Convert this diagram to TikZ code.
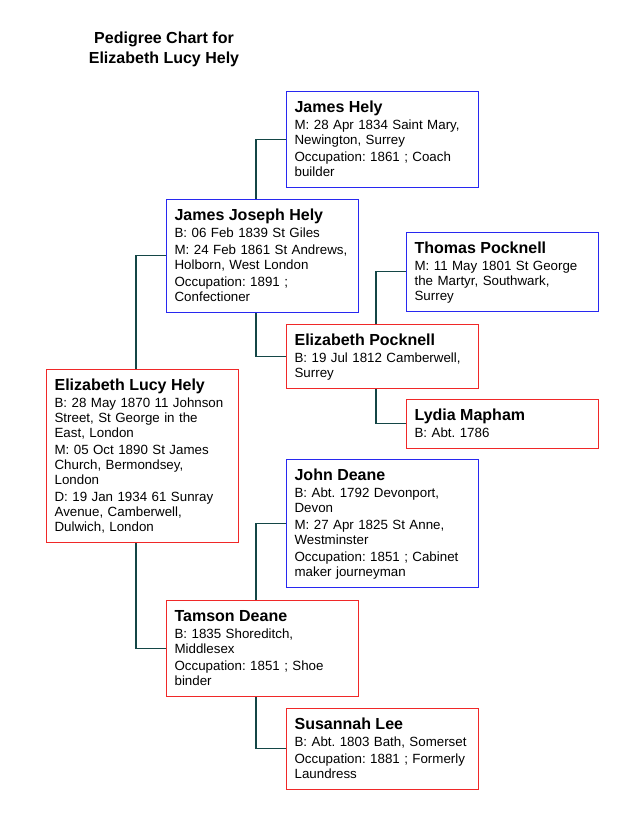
\documentclass[tikz,border=0pt]{standalone}
\usepackage{fontspec}
\setmainfont{Liberation Sans}
\usetikzlibrary{calc}
\definecolor{cMale}{RGB}{40,40,240}
\definecolor{cFemale}{RGB}{240,40,40}
\definecolor{cKin}{RGB}{20,70,70}
\newcommand{\pname}[1]{\rule{0pt}{15.5pt}{\fontsize{12}{14}\selectfont\bfseries #1}\\[1.5pt]}
\newcommand{\pend}{\rule[-8.25pt]{0pt}{8.25pt}}
\tikzset{
	person/.style   ={rectangle, anchor=north west, text width=132pt, inner xsep=6pt, inner ysep=0pt, align=left, line width=0.9pt, fill=white, font=\fontsize{10}{11.25}\selectfont\frenchspacing},
	malebox/.style  ={person, draw=cMale},
	femalebox/.style={person, draw=cFemale},
	kin/.style      ={draw=cKin, line width=0.8pt},
	charttitle/.style={anchor=north, inner sep=0pt, align=center, font=\fontsize{12}{14.5}\selectfont\bfseries},
}
\begin{document}
\begin{tikzpicture}[x=0.75pt, y=-0.75pt]
	\fill[white] (0,0) rectangle (640,828);
	\useasboundingbox (0,0) rectangle (640,828);
	% title
	\node[charttitle] (ttl) at (164,32) {Pedigree Chart for\\Elizabeth Lucy Hely};
	% generation 1
	\node[femalebox] (elh) at (46,369) {\pname{Elizabeth Lucy Hely}B: 28 May 1870 11 Johnson\\Street, St George in the\\East, London\\[1.5pt]M: 05 Oct 1890 St James\\Church, Bermondsey,\\London\\[1.5pt]D: 19 Jan 1934 61 Sunray\\Avenue, Camberwell,\\Dulwich, London\pend};
	% generation 2
	\node[malebox] (jjh) at (166,199) {\pname{James Joseph Hely}B: 06 Feb 1839 St Giles\\[1.5pt]M: 24 Feb 1861 St Andrews,\\Holborn, West London\\[1.5pt]Occupation: 1891 ;\\Confectioner\pend};
	\node[femalebox] (td) at (166,600) {\pname{Tamson Deane}B: 1835 Shoreditch,\\Middlesex\\[1.5pt]Occupation: 1851 ; Shoe\\binder\pend};
	% generation 3
	\node[malebox] (jh) at (286,91) {\pname{James Hely}M: 28 Apr 1834 Saint Mary,\\Newington, Surrey\\[1.5pt]Occupation: 1861 ; Coach\\builder\pend};
	\node[femalebox] (ep) at (286,324) {\pname{Elizabeth Pocknell}B: 19 Jul 1812 Camberwell,\\Surrey\pend};
	\node[malebox] (jd) at (286,459) {\pname{John Deane}B: Abt. 1792 Devonport,\\Devon\\[1.5pt]M: 27 Apr 1825 St Anne,\\Westminster\\[1.5pt]Occupation: 1851 ; Cabinet\\maker journeyman\pend};
	\node[femalebox] (sl) at (286,708) {\pname{Susannah Lee}B: Abt. 1803 Bath, Somerset\\[1.5pt]Occupation: 1881 ; Formerly\\Laundress\pend};
	% generation 4
	\node[malebox] (tp) at (406,232) {\pname{Thomas Pocknell}M: 11 May 1801 St George\\the Martyr, Southwark,\\Surrey\pend};
	\node[femalebox] (lm) at (406,399) {\pname{Lydia Mapham}B: Abt. 1786\pend};
	% lines to parents
	\draw[kin] ($(elh.north west)+(90,0)$) |- (jjh.west);
	\draw[kin] ($(elh.south west)+(90,0)$) |- (td.west);
	\draw[kin] ($(jjh.north west)+(90,0)$) |- (jh.west);
	\draw[kin] ($(jjh.south west)+(90,0)$) |- (ep.west);
	\draw[kin] ($(ep.north west)+(90,0)$) |- (tp.west);
	\draw[kin] ($(ep.south west)+(90,0)$) |- (lm.west);
	\draw[kin] ($(td.north west)+(90,0)$) |- (jd.west);
	\draw[kin] ($(td.south west)+(90,0)$) |- (sl.west);
\end{tikzpicture}
\end{document}
